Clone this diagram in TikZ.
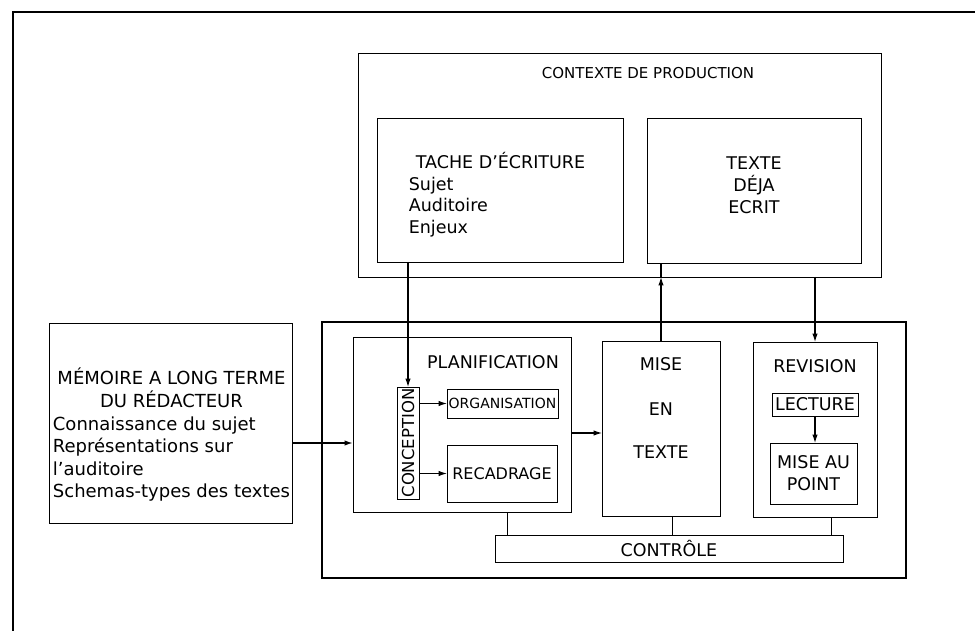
\documentclass[tikz,border=0pt]{standalone}
\usepackage{fontspec}
\setmainfont{DejaVu Sans}
\usetikzlibrary{arrows.meta,positioning,calc}

\begin{document}
\begin{tikzpicture}[x=1pt,y=-1pt,>={Latex[length=8.5pt,width=5.5pt]},
  every node/.style={font=\fontsize{17.5}{22}\selectfont}]
\tikzstyle{box}=[draw,line width=0.9pt,inner sep=0pt,outer sep=0pt,align=center]
\tikzstyle{lbl}=[inner sep=0pt,align=center]
\tikzstyle{link}=[line width=1.1pt]
\useasboundingbox (0,0) rectangle (975,631);
% cadre
\draw[line width=1.2pt] (13,631) -- (13,12) -- (975,12);
% contexte de production
\node[box,minimum width=523pt,minimum height=224pt] (contexte) at (619.5,165) {};
\node[lbl,font=\fontsize{15}{18}\selectfont] (ctxtitle) at (648,73) {CONTEXTE DE PRODUCTION};
\node[box,minimum width=246pt,minimum height=144pt] (tache) at (500,190) {};
\node[lbl,align=left,font=\fontsize{17.5}{21.5}\selectfont] (tachetxt) at (497,194.5)
  {\hspace{7pt}TACHE D'ÉCRITURE\\Sujet\\Auditoire\\Enjeux};
\node[box,minimum width=214pt,minimum height=145pt] (texte) at (754,190.5) {};
\node[lbl] (textetxt) at (754,185) {TEXTE\\DÉJA\\ECRIT};
% memoire
\node[box,minimum width=243pt,minimum height=200pt] (memoire) at (170.5,423) {};
\node[lbl,font=\fontsize{18}{22.4}\selectfont] (memtxt) at (171.5,436)
  {\begin{tabular}{@{}l@{}}
   \multicolumn{1}{@{}c@{}}{MÉMOIRE A LONG TERME}\\
   \multicolumn{1}{@{}c@{}}{DU RÉDACTEUR}\\
   Connaissance du sujet\\
   Représentations sur\\
   l'auditoire\\
   Schemas-types des textes
   \end{tabular}};
% processus
\node[box,line width=2.6pt,minimum width=584pt,minimum height=256pt] (processus) at (614,450) {};
\node[box,minimum width=218pt,minimum height=175pt] (planif) at (462,424.5) {};
\node[lbl] (planiftitle) at (493,362) {PLANIFICATION};
\node[box,minimum width=22pt,minimum height=112pt,font=\fontsize{16.5}{20}\selectfont] (conception) at (408,443) {\rotatebox{90}{CONCEPTION}};
\node[box,minimum width=111pt,minimum height=29pt,font=\fontsize{14}{17}\selectfont] (organisation) at (502.5,403.5) {ORGANISATION};
\node[box,minimum width=110pt,minimum height=57pt,font=\fontsize{16}{20}\selectfont] (recadrage) at (502,473.5) {RECADRAGE};
\node[box,minimum width=118pt,minimum height=175pt] (mise) at (661,428.5) {};
\node[lbl] (misetxt) at (661,408) {MISE\\[23pt]EN\\[21pt]TEXTE};
\node[box,minimum width=124pt,minimum height=175pt] (revision) at (815,429.5) {};
\node[lbl] (revtitle) at (815,366) {REVISION};
\node[box,minimum width=86pt,minimum height=23pt] (lecture) at (815,404.5) {LECTURE};
\node[box,minimum width=87pt,minimum height=61pt] (mpoint) at (813.5,473.5) {MISE AU\\POINT};
\node[box,minimum width=348pt,minimum height=27pt] (controle) at (669,548.5) {CONTRÔLE};
% liens
\draw[->,link] (tache.south -| conception.north) -- (conception.north);
\draw[->,link] (conception.east |- organisation.west) -- (organisation.west);
\draw[->,link] (conception.east |- recadrage.west) -- (recadrage.west);
\coordinate (m1) at ([yshift=-20pt]memoire.east);
\draw[->,link,line width=1.6pt] (m1) -- (m1 -| planif.west);
\coordinate (p1) at ([yshift=-8.5pt]planif.east);
\draw[->,link] (p1) -- (p1 -| mise.west);
\draw[->,link] (mise.north) -- (mise.north |- contexte.south);
\draw[link] (mise.north |- contexte.south) -- (mise.north |- texte.south);
\draw[->,link] (revision.north |- contexte.south) -- (revision.north);
\draw[->,link] (lecture.south) -- (lecture.south |- mpoint.north);
\coordinate (c1) at ([xshift=45pt]planif.south);
\coordinate (c2) at ([xshift=11pt]mise.south);
\coordinate (c3) at ([xshift=16pt]revision.south);
\draw[line width=0.6pt] (c1) -- (c1 |- controle.north);
\draw[line width=0.6pt] (c2) -- (c2 |- controle.north);
\draw[line width=0.6pt] (c3) -- (c3 |- controle.north);
\end{tikzpicture}
\end{document}
